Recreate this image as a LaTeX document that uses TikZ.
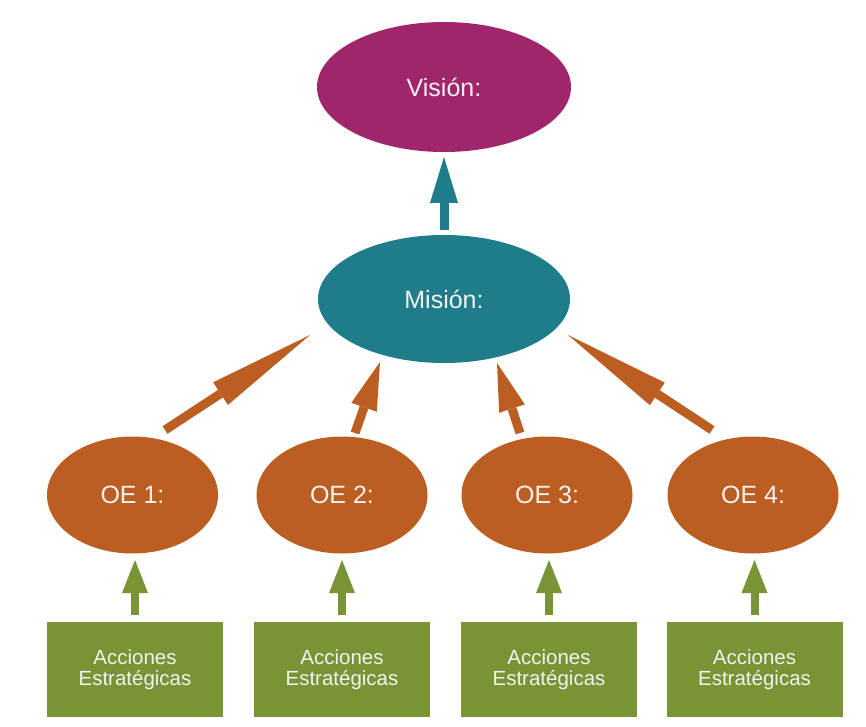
\documentclass[tikz,border=0pt]{standalone}
\usepackage{fontspec}
\setmainfont{Liberation Sans}
\usetikzlibrary{shapes.geometric,arrows.meta,calc}
\definecolor{visc}{HTML}{A0266B}
\definecolor{misc}{HTML}{1F7C8A}
\definecolor{oec}{HTML}{BC5E22}
\definecolor{acc}{HTML}{789434}
\definecolor{txtc}{HTML}{F2F2F2}
\tikzset{
  ell/.style={ellipse, inner sep=0pt, text=txtc, font=\fontsize{25}{29}\selectfont},
  visnode/.style={ell, fill=visc, minimum width=254pt, minimum height=130pt},
  misnode/.style={ell, fill=misc, minimum width=252pt, minimum height=128pt},
  oenode/.style={ell, fill=oec, minimum width=171pt, minimum height=117pt},
  accbox/.style={rectangle, fill=acc, minimum width=176pt, minimum height=95pt, inner sep=0pt,
     text=txtc, align=center, font=\fontsize{20.5}{21}\selectfont},
  tealarrow/.style={draw=misc, line width=9pt, -{Triangle[length=46pt,width=28pt,line width=0pt]}},
  greenarrow/.style={draw=acc, line width=8pt, -{Triangle[length=33pt,width=26pt,line width=0pt]}},
  longorange/.style={draw=oec, line width=9pt, -{Triangle[length=107pt,width=27pt,line width=0pt]}},
  shortorange/.style={draw=oec, line width=9pt, -{Triangle[length=48pt,width=27pt,line width=0pt]}}
}
\begin{document}
\begin{tikzpicture}[x=1pt,y=-1pt]
\useasboundingbox (0,0) rectangle (866,727);
\fill[white] (0,0) rectangle (866,727);
\node[visnode] (vis) at (444,87) {Visión:};
\node[misnode] (mis) at (444,299) {Misión:};
\node[oenode] (oe1) at (132.5,495) {OE 1:};
\node[oenode] (oe2) at (342,495) {OE 2:};
\node[oenode] (oe3) at (547,495) {OE 3:};
\node[oenode] (oe4) at (753,495) {OE 4:};
\node[accbox] (a1) at (135,669.5) {Acciones\\Estratégicas};
\node[accbox] (a2) at (342,669.5) {Acciones\\Estratégicas};
\node[accbox] (a3) at (549,669.5) {Acciones\\Estratégicas};
\node[accbox] (a4) at (754.5,669.5) {Acciones\\Estratégicas};
% teal arrow
\draw[tealarrow] ($(mis.center)+(0,-69)$) -- ($(vis.center)+(0,70)$);
% orange arrows
\draw[longorange] ($(oe1.center)+(32.5,-65)$) -- ($(mis.center)+(-134,36)$);
\draw[shortorange] ($(oe2.center)+(13,-62)$) -- ($(mis.center)+(-64,63)$);
\draw[shortorange] ($(oe3.center)+(-27,-62)$) -- ($(mis.center)+(53,64)$);
\draw[longorange] ($(oe4.center)+(-41,-65)$) -- ($(mis.center)+(124,36)$);
% green arrows
\draw[greenarrow] ($(a1.center)+(0,-54.5)$) -- ($(oe1.center)+(2.5,65)$);
\draw[greenarrow] ($(a2.center)+(0,-54.5)$) -- ($(oe2.center)+(0,65)$);
\draw[greenarrow] ($(a3.center)+(0,-54.5)$) -- ($(oe3.center)+(2,65)$);
\draw[greenarrow] ($(a4.center)+(0,-54.5)$) -- ($(oe4.center)+(1.5,65)$);
\end{tikzpicture}
\end{document}
